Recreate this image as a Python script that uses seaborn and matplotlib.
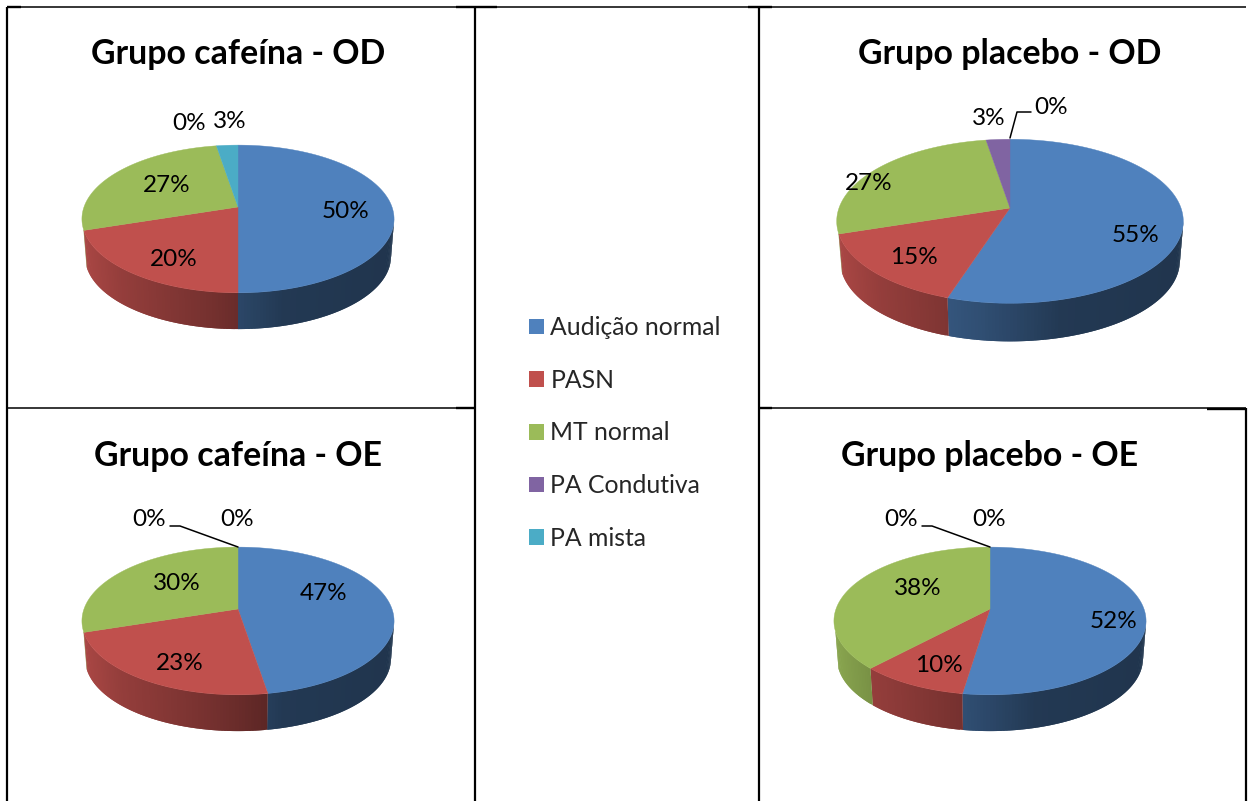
import numpy as np
import matplotlib.pyplot as plt
from matplotlib.colors import to_rgb
from matplotlib.patches import Patch
import seaborn as sns

# Data (slice sizes, labels show them rounded)
categories = ['Audição normal', 'PASN', 'MT normal', 'PA Condutiva', 'PA mista']
cafeina_od = [50, 20, 27.4, 0, 2.6]
placebo_od = [55, 15, 27.4, 2.6, 0]
cafeina_oe = [47.4, 22.6, 30, 0, 0]
placebo_oe = [52.4, 9.6, 38, 0, 0]
colors = ['#4F81BD', '#C0504D', '#9BBB59', '#8064A2', '#4BACC6']

sns.set_theme(style='white')
plt.rcParams['font.family'] = ['Lato', 'DejaVu Sans']

# Layout, in picture pixels
TILT = 0.467       # squash of the pie
PERSP = 0.162      # perspective strength
BASE_SCALE = 0.98  # bottom of the cylinder is a bit narrower

panels = [
    dict(title='Grupo cafeína - OD', title_xy=(238, 54), values=cafeina_od, center=(238, 207), radius=154, depth=38,
         labels={0: (346, 211.5), 1: (174, 259.5), 2: (167, 185.5), 3: (189, 123.5), 4: (230, 121.5)}, leader=None),
    dict(title='Grupo placebo - OD', title_xy=(1010, 54), values=placebo_od, center=(1010, 208), radius=171, depth=40,
         labels={0: (1136, 235.5), 1: (914, 257.5), 2: (869, 183.5), 3: (989, 118.5), 4: (1051, 107.5)},
         leader=[(1010, 138), (1017, 112), (1031, 112)]),
    dict(title='Grupo cafeína - OE', title_xy=(238, 456), values=cafeina_oe, center=(238, 609), radius=154, depth=38,
         labels={0: (324, 593.5), 1: (180, 663.5), 2: (177, 583.5), 3: (149, 519.5), 4: (237, 519.5)},
         leader=[(238, 547), (180, 526), (170, 526)]),
    dict(title='Grupo placebo - OE', title_xy=(990, 456), values=placebo_oe, center=(990, 609), radius=154, depth=38,
         labels={0: (1114, 621.5), 1: (939, 665.5), 2: (918, 588.5), 3: (901, 519.5), 4: (989, 519.5)},
         leader=[(990, 547), (932, 526), (922, 526)]),
]


def project(theta, radius):
    # theta in degrees, clockwise from 12 o'clock, on the rim of the tilted disc
    t = np.radians(theta)
    s = 1 / (1 + PERSP * np.cos(t))
    return np.sin(t) * s * radius, -np.cos(t) * TILT * s * radius


def side_shade(x):
    # wall gets darker from left to right
    return np.interp(x, [-1, -0.76, -0.18, 0.0, 0.3, 1], [0.88, 0.77, 0.61, 0.55, 0.44, 0.41])


def draw_pie(ax, panel):
    cx, cy = panel['center']
    r = panel['radius']
    d = panel['depth']
    edges = np.concatenate([[0], np.cumsum(panel['values'])]) * 3.6

    # side wall, cut in thin strips for the gradient (each strip overlaps the next)
    for i in range(len(colors)):
        a0, a1 = max(edges[i], 99), min(edges[i + 1], 253)
        if a1 <= a0:
            continue
        steps = np.append(np.arange(a0, a1, 1.0), a1)
        rgb = np.array(to_rgb(colors[i]))
        for t0, t1 in zip(steps[:-1], steps[1:]):
            x0, y0 = project(t0, r)
            x1, y1 = project(min(t1 + 1, a1), r)
            xm = project((t0 + t1) / 2, r)[0]
            ax.fill([cx + x0, cx + x1, cx + x1 * BASE_SCALE, cx + x0 * BASE_SCALE],
                    [cy + y0, cy + y1, cy + y1 * BASE_SCALE + d, cy + y0 * BASE_SCALE + d],
                    color=rgb * side_shade(xm / r), lw=0, zorder=2)

    # top of the pie
    for i in range(len(colors)):
        if edges[i + 1] <= edges[i]:
            continue
        th = np.linspace(edges[i], edges[i + 1], 120)
        x, y = project(th, r)
        ax.fill(np.r_[cx, cx + x], np.r_[cy, cy + y], color=colors[i], lw=0.3, zorder=3)

    for i, (lx, ly) in panel['labels'].items():
        ax.text(lx, ly, '%d%%' % round(panel['values'][i]), ha='center', va='center',
                fontsize=17.5, color='black', zorder=5)

    if panel['leader']:
        xs, ys = zip(*panel['leader'])
        ax.plot(xs, ys, color='black', lw=1.1, zorder=4)

    ax.text(*panel['title_xy'], panel['title'], ha='center', va='center',
            fontsize=24.4, fontweight='bold', color='black', zorder=5)


fig = plt.figure(figsize=(12.51, 8.01), dpi=100)
ax = fig.add_axes([0, 0, 1, 1])
ax.set_xlim(0, 1251)
ax.set_ylim(801, 0)
ax.axis('off')

# table lines
for x, y0, y1 in [(7, 7, 801), (474.5, 7, 801), (758.5, 7, 801), (1246, 408, 801)]:
    ax.plot([x, x], [y0, y1], color='black', lw=1.6, solid_capstyle='butt')
for x0, x1 in [(7, 474), (758, 1246)]:
    ax.plot([x0, x1], [408, 408], color='black', lw=1.1, solid_capstyle='butt')
ax.plot([7, 1246], [6.5, 6.5], color='black', lw=1.1, solid_capstyle='butt')
# thicker stubs where the table cells join
for x0, x1, y in [(7, 21, 7), (456, 497, 7), (748, 772, 7), (456, 474, 408), (758, 772, 408), (1207, 1246, 409)]:
    ax.plot([x0, x1], [y, y], color='black', lw=1.7, solid_capstyle='butt')

for panel in panels:
    draw_pie(ax, panel)

handles = [Patch(facecolor=c, edgecolor='none', label=n) for c, n in zip(colors, categories)]
ax.legend(handles=handles, loc='center left', bbox_to_anchor=(529 / 1251, 1 - 433 / 801),
          frameon=False, fontsize=17.8, handlelength=0.61, handleheight=0.61,
          handletextpad=0.25, labelspacing=1.2, borderpad=0, borderaxespad=0)

fig.savefig('out.png', dpi=100)
